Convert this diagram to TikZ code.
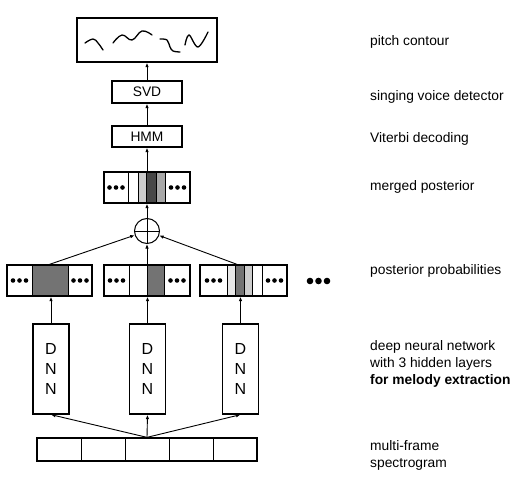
\documentclass[tikz,border=0pt]{standalone}
\usepackage{fontspec}
\setmainfont{Liberation Sans}
\usetikzlibrary{arrows.meta, positioning}
\definecolor{darkcell}{gray}{0.45}
\definecolor{deepcell}{gray}{0.28}
\definecolor{midcell}{gray}{0.66}
\definecolor{lightcell}{gray}{0.8}
\definecolor{palecell}{gray}{0.91}
\tikzset{%
>={Latex[width=3.5pt,length=4.5pt]},
  % Specifications for style of nodes:
            box/.style = {rectangle, draw=black, line width=1.3pt, inner sep=0pt,
                            font=\fontsize{13.8}{17}\selectfont},
            caption/.style = {anchor=west, inner sep=0pt, align=left,
                            font=\fontsize{13.8}{17}\selectfont},
            link/.style = {->, line width=0.9pt},
            cell/.style = {draw=black, line width=1pt},
            wave/.style = {line width=1.3pt, line cap=round}
}
\begin{document}
\begin{tikzpicture}[x=1pt, y=-1pt]
                        \useasboundingbox (0,0) rectangle (527,503);
                        % pitch contour and decoders
                        \node[box, minimum width=140, minimum height=44] (contour) at (147,40) {};
                        \draw[wave] plot[smooth, tension=0.7] coordinates {(85,43) (93,39) (98,43) (103,50)};
                        \draw[wave] plot[smooth, tension=0.7] coordinates {(113,43) (122,35) (132,40) (142,31) (152,35)};
                        \draw[wave] plot[smooth, tension=0.6] coordinates {(160,39) (167,40) (170,47) (173,51) (180,52)};
                        \draw[wave] plot[smooth, tension=0.6] coordinates {(185,45) (189,35) (198,47) (208,32)};
                        \node[box, minimum width=70, minimum height=22] (svd) at (147,92) {SVD};
                        \node[box, minimum width=70, minimum height=21] (hmm) at (147,136.5) {HMM};
                        % merged posterior
                        \foreach \a/\b/\c in {128/138/white, 138/146/lightcell, 146/156/deepcell, 156/165/midcell}
                            \filldraw[cell, fill=\c] (\a,172) rectangle (\b,203);
                        \node[box, minimum width=86, minimum height=31] (merged) at (147,187.5) {};
                        \foreach \cx in {116, 177.5}{
                            \foreach \d in {-6.5,0,6.5}{\fill (\cx+\d,187.5) circle (2.3);}
                        }
                        \node[circle, draw=black, line width=1pt, minimum size=25, inner sep=0pt] (sum) at (147,231) {};
                        \draw[line width=1pt] (sum.north) -- (sum.south) (sum.west) -- (sum.east);
                        % posterior probabilities
                        \foreach \a/\b/\c in {32/68/darkcell,
                                              129/147/white, 147/164/darkcell,
                                              227/235/palecell, 235/244/darkcell, 244/252/lightcell, 252/262/white}
                            \filldraw[cell, fill=\c] (\a,265) rectangle (\b,296);
                        \node[box, minimum width=85, minimum height=31] (post1) at (49.5,280.5) {};
                        \node[box, minimum width=86, minimum height=31] (post2) at (147,280.5) {};
                        \node[box, minimum width=87, minimum height=31] (post3) at (243.5,280.5) {};
                        \foreach \cx in {19.5, 80, 116.5, 177, 213.5, 274.5}{
                            \foreach \d in {-6.5,0,6.5}{\fill (\cx+\d,280.5) circle (2.3);}
                        }
                        \foreach \d in {0,8.5,17}{\fill (310+\d,281) circle (3.3);}
                        % networks
                        \foreach \n/\x in {1/51, 2/147.5, 3/240.5}{
                            \node[box, minimum width=36, minimum height=90, align=center,
                                  font=\fontsize{16}{20}\selectfont] (dnn\n) at (\x,369) {D\\N\\N};
                        }
                        \node[box, minimum width=220, minimum height=23] (spec) at (147,449.5) {};
                        \foreach \k in {1,...,4}{\draw[cell] (37+44*\k,438) -- (37+44*\k,461);}
                        % connectors
                        \draw[link] (svd) -- (contour);
                        \draw[link] (hmm) -- (svd);
                        \draw[link] (merged) -- (hmm);
                        \draw[link] (sum) -- (merged);
                        \draw[link] (post1.north) -- (sum);
                        \draw[link] (post2.north) -- (sum);
                        \draw[link] ([xshift=-6.5pt]post3.north) -- (sum);
                        \foreach \n in {1,2,3}{
                            \draw[link] (dnn\n.north) -- (dnn\n.north |- post\n.south);
                            \draw[link] (spec.north) -- (dnn\n.south);
                        }
                        % captions
                        \node[caption] (lcontour) at (370,42) {pitch contour};
                        \node[caption] (lsvd) at (370,97) {singing voice detector};
                        \node[caption] (lhmm) at (370,139) {Viterbi decoding};
                        \node[caption] (lmerged) at (370,187) {merged posterior};
                        \node[caption] (lpost) at (370,271) {posterior probabilities};
                        \node[caption] (ldnn) at (370,364) {deep neural network\\with 3 hidden layers\\\textbf{for melody extraction}};
                        \node[caption] (lspec) at (370,455) {multi-frame\\spectrogram};
                    \end{tikzpicture}
\end{document}
